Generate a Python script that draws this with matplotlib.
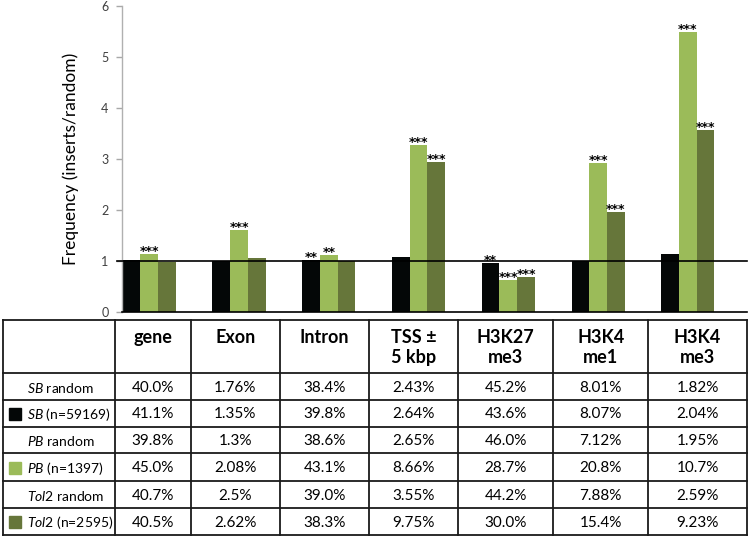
import matplotlib
matplotlib.use('Agg')
import matplotlib.pyplot as plt
import numpy as np

plt.rcParams['font.family'] = ['Lato', 'DejaVu Sans']
plt.rcParams['mathtext.fontset'] = 'custom'
plt.rcParams['mathtext.rm'] = 'Lato'
plt.rcParams['mathtext.it'] = 'Lato:italic'
plt.rcParams['mathtext.bf'] = 'Lato:bold'

# ---------------- data ----------------
categories = ['gene', 'Exon', 'Intron', 'TSS ±\n5 kbp', 'H3K27\nme3', 'H3K4\nme1', 'H3K4\nme3']
sb_ratio = [1.02, 1.00, 1.02, 1.08, 0.96, 1.00, 1.13]
pb_ratio = [1.14, 1.61, 1.12, 3.27, 0.63, 2.93, 5.50]
tol2_ratio = [0.99, 1.05, 1.00, 2.95, 0.68, 1.96, 3.57]
sb_stars = ['', '', '**', '', '**', '', '']
pb_stars = ['***', '***', '**', '***', '***', '***', '***']
tol2_stars = ['', '', '', '***', '***', '***', '***']
yticks = [0, 1, 2, 3, 4, 5, 6]
ylabel = 'Frequency (inserts/random)'

row_labels = [r'$\mathit{SB}$ random', r'$\mathit{SB}$ (n=59169)',
              r'$\mathit{PB}$ random', r'$\mathit{PB}$ (n=1397)',
              r'$\mathit{Tol2}$ random', r'$\mathit{Tol2}$ (n=2595)']
row_swatch = [None, 'sb', None, 'pb', None, 'tol2']
sb_random = ['40.0%', '1.76%', '38.4%', '2.43%', '45.2%', '8.01%', '1.82%']
sb_inserts = ['41.1%', '1.35%', '39.8%', '2.64%', '43.6%', '8.07%', '2.04%']
pb_random = ['39.8%', '1.3%', '38.6%', '2.65%', '46.0%', '7.12%', '1.95%']
pb_inserts = ['45.0%', '2.08%', '43.1%', '8.66%', '28.7%', '20.8%', '10.7%']
tol2_random = ['40.7%', '2.5%', '39.0%', '3.55%', '44.2%', '7.88%', '2.59%']
tol2_inserts = ['40.5%', '2.62%', '38.3%', '9.75%', '30.0%', '15.4%', '9.23%']
table_rows = [sb_random, sb_inserts, pb_random, pb_inserts, tol2_random, tol2_inserts]

colors = {'sb': '#040707', 'pb': '#9BBB59', 'tol2': '#66763A'}

# ---------------- figure ----------------
W, H = 750, 538
fig = plt.figure(figsize=(W / 100, H / 100), dpi=100)

ax = fig.add_axes([122.3 / W, 226 / H, 624.4 / W, 306 / H])
x = np.arange(len(categories))
w = 0.197
series = [(sb_ratio, sb_stars, colors['sb']),
          (pb_ratio, pb_stars, colors['pb']),
          (tol2_ratio, tol2_stars, colors['tol2'])]
for i, (vals, stars, c) in enumerate(series):
    xs = x + (i - 1) * w
    ax.bar(xs, vals, width=w, color=c, edgecolor='none', zorder=2)
    for xi, v, s in zip(xs, vals, stars):
        if s:
            ax.annotate(s, (xi, v), xytext=(0, -0.8), textcoords='offset points',
                        ha='center', va='baseline', fontsize=9.0,
                        fontweight='bold', color='black', zorder=4,
                        family=['DejaVu Sans'])

ax.axhline(1, xmin=-5 / 624.4, xmax=1, color='black', lw=1.2, zorder=3, clip_on=False)
ax.set_xlim(-0.30, 6.655)
ax.set_ylim(0, 6)
ax.set_yticks(yticks)
ax.set_xticks([])
ax.tick_params(axis='y', length=4, width=1, color='#a8a8a8', labelcolor='#404040',
               labelsize=9, pad=6)
for s in ['top', 'right']:
    ax.spines[s].set_visible(False)
ax.spines['left'].set_color('#b0b0b0')
ax.spines['left'].set_linewidth(1)
ax.spines['bottom'].set_color('black')
ax.spines['bottom'].set_linewidth(1.2)
ax.set_ylabel(ylabel, fontsize=12.5, color='black')
ax.yaxis.set_label_coords(-(122.3 - 79) / 624.4, 0.5)

# ---------------- table ----------------
tx = fig.add_axes([0, 0, 1, 1], zorder=-1)
tx.set_xlim(0, W)
tx.set_ylim(H, 0)
tx.axis('off')

col_x = [3.3, 115, 190.7, 280, 369, 458.3, 553.3, 648.3, 746.7]
row_y = [320, 373.3, 400, 426.7, 453.3, 481, 508.3, 535]
lc = '#1a1a1a'
for yy in row_y:
    tx.plot([col_x[0], col_x[-1]], [yy, yy], color=lc, lw=1.3, solid_capstyle='projecting')
for xx in col_x:
    tx.plot([xx, xx], [row_y[0], row_y[-1]], color=lc, lw=1.3, solid_capstyle='projecting')

for j, cat in enumerate(categories):
    cx = (col_x[j + 1] + col_x[j + 2]) / 2
    tx.text(cx, 329, cat, ha='center', va='top', fontsize=13, fontweight='bold',
            linespacing=1.2, color='black')

for r, (lab, sw, vals) in enumerate(zip(row_labels, row_swatch, table_rows)):
    cy = (row_y[r + 1] + row_y[r + 2]) / 2 + 1
    tx.text(27, cy, lab, ha='left', va='center', fontsize=10, color='black')
    if sw:
        tx.add_patch(plt.Rectangle((9, cy - 6.5), 12, 12, color=colors[sw]))
    for j, v in enumerate(vals):
        cx = (col_x[j + 1] + col_x[j + 2]) / 2
        tx.text(cx, cy, v, ha='center', va='center', fontsize=11, color='black')

fig.savefig('out.png', dpi=100)
